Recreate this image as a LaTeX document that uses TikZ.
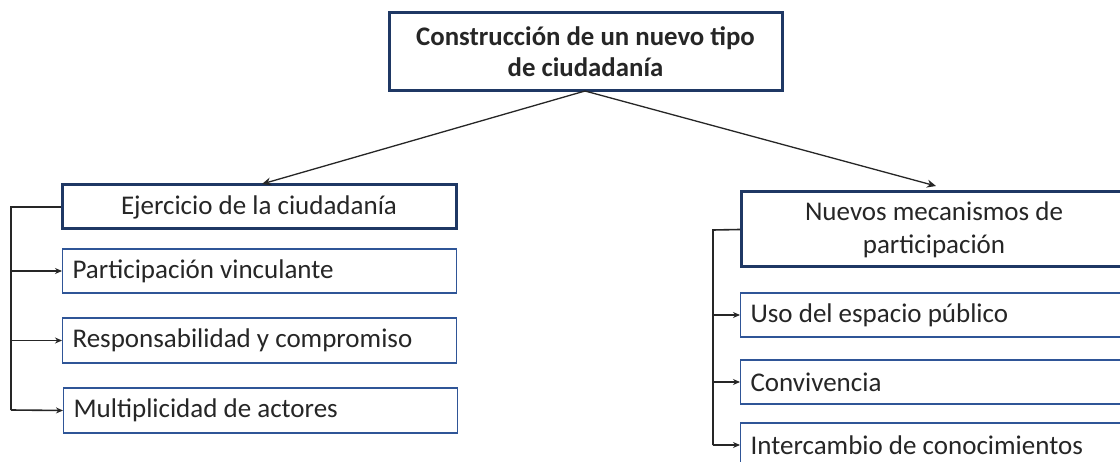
\documentclass[tikz,border=0pt]{standalone}
\usepackage{fontspec}
\setmainfont{Carlito}
\usetikzlibrary{arrows.meta}
\definecolor{navy}{HTML}{1F3864}
\definecolor{thinblue}{HTML}{2F5597}
\definecolor{txt}{HTML}{262626}
\newcommand{\lefttext}[2]{\hbox to #1{#2\hfil}}
\tikzset{
  mainbox/.style={draw=navy, line width=3pt, fill=white, inner sep=0pt, align=center, text=txt},
  subbox/.style={draw=thinblue, line width=1.2pt, fill=white, inner sep=0pt, inner xsep=10pt, text=txt, font=\fontsize{27}{30}\selectfont},
  link/.style={draw=black!85, line width=1.3pt, -{Stealth[length=9pt,width=8pt]}},
  branch/.style={draw=black!85, line width=1.6pt},
  sub/.style={draw=black!85, line width=1.6pt, -{Stealth[length=7pt,width=6pt]}}
}
\begin{document}
\begin{tikzpicture}[x=1pt,y=-1pt]
\clip (0,0) rectangle (1120,462);
\fill[white] (0,0) rectangle (1120,462);
% top
\node[mainbox, minimum width=393pt, minimum height=78pt, font=\fontsize{26.8}{31}\selectfont\bfseries] (top) at (585.5,52) {Construcción de un nuevo tipo\\de ciudadanía};
% left column
\node[mainbox, minimum width=394pt, minimum height=44pt, font=\fontsize{27}{30}\selectfont] (ej) at (259,207) {Ejercicio de la ciudadanía};
\node[subbox, minimum width=394pt, minimum height=44pt, anchor=west] (p1) at (62,271) {\lefttext{374pt}{Participación vinculante}};
\node[subbox, minimum width=394pt, minimum height=45pt, anchor=west] (p2) at (62,340.5) {\lefttext{374pt}{Responsabilidad y compromiso}};
\node[subbox, minimum width=394pt, minimum height=45pt, anchor=west] (p3) at (63,410.5) {\lefttext{374pt}{Multiplicidad de actores}};
% right column
\node[mainbox, minimum width=400pt, minimum height=75pt, font=\fontsize{27}{33}\selectfont, anchor=west] (nm) at (740,229.5) {\hspace*{-15pt}Nuevos mecanismos de\\\hspace*{-15pt}participación};
\node[subbox, minimum width=400pt, minimum height=44pt, anchor=west] (q1) at (740,315) {\lefttext{380pt}{Uso del espacio público}};
\node[subbox, minimum width=400pt, minimum height=44pt, anchor=west] (q2) at (740,382) {\lefttext{380pt}{Convivencia}};
\node[subbox, minimum width=400pt, minimum height=44pt, anchor=west] (q3) at (740,445) {\lefttext{380pt}{Intercambio de conocimientos}};
% top links
\coordinate (ta) at (585,91);
\coordinate (lt) at (262,184);
\coordinate (rt) at (936,186);
\draw[link] (ta) -- (lt);
\draw[link] (ta) -- (rt);
% left branches
\coordinate (lb) at (11,207);
\coordinate (lbe) at (11,410);
\draw[branch] (ej.west) -- (lb) -- (lbe);
\draw[sub] (11,271) -- (p1.west);
\draw[sub] (11,340.5) -- (p2.west);
\draw[sub] (lbe) -- (p3.west);
% right branches
\coordinate (rb) at (713,230);
\coordinate (rbe) at (713,445);
\draw[branch] (nm.west) -- (rb) -- (rbe);
\draw[sub] (713,315) -- (q1.west);
\draw[sub] (713,382) -- (q2.west);
\draw[sub] (rbe) -- (q3.west);
\end{tikzpicture}
\end{document}
